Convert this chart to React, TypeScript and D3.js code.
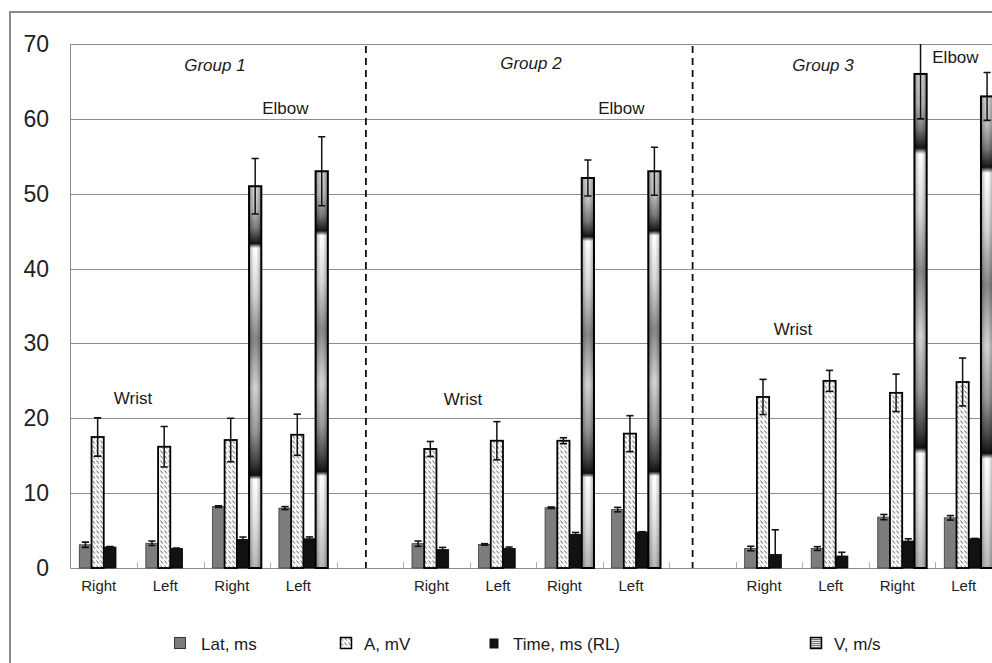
import { useRef, useEffect } from "react";
import * as d3 from "d3";

// 14 category slots: 4 per group plus an empty slot between groups
const categories = [
  "g1-wrist-r", "g1-wrist-l", "g1-elbow-r", "g1-elbow-l", "gap-1",
  "g2-wrist-r", "g2-wrist-l", "g2-elbow-r", "g2-elbow-l", "gap-2",
  "g3-wrist-r", "g3-wrist-l", "g3-elbow-r", "g3-elbow-l",
];
const sideLabels = [
  "Right", "Left", "Right", "Left", "",
  "Right", "Left", "Right", "Left", "",
  "Right", "Left", "Right", "Left",
];

const seriesKeys = ["lat", "amp", "time", "vel"];
const seriesNames = ["Lat, ms", "A, mV", "Time, ms (RL)", "V, m/s"];

const latValues = [3.1, 3.3, 8.2, 8.0, null, 3.25, 3.15, 8.05, 7.8, null, 2.6, 2.6, 6.8, 6.7];
const latErrors = [0.35, 0.3, 0.1, 0.2, null, 0.35, 0.1, 0.1, 0.3, null, 0.3, 0.25, 0.35, 0.3];
const ampValues = [17.5, 16.2, 17.1, 17.8, null, 15.9, 17.0, 17.0, 17.95, null, 22.85, 25.0, 23.4, 24.85];
const ampErrors = [2.55, 2.7, 2.9, 2.75, null, 1.0, 2.55, 0.4, 2.4, null, 2.35, 1.4, 2.5, 3.2];
const timeValues = [2.8, 2.6, 3.8, 3.9, null, 2.45, 2.6, 4.5, 4.8, null, 1.8, 1.6, 3.6, 3.9];
const timeErrors = [0.05, 0.05, 0.35, 0.25, null, 0.3, 0.2, 0.25, 0.05, null, 3.3, 0.5, 0.3, 0.05];
const velValues = [null, null, 51.0, 53.0, null, null, null, 52.1, 53.0, null, null, null, 66.0, 63.0];
const velErrors = [null, null, 3.7, 4.6, null, null, null, 2.4, 3.2, null, null, null, 6.0, 3.2];

const yTicks = [0, 10, 20, 30, 40, 50, 60, 70];

// annotations: text, position in category units, y value of the baseline
const groupLabels = ["Group 1", "Group 2", "Group 3"];
const groupLabelPos = [2.17, 6.92, 11.31];
const groupLabelY = [66.4, 66.7, 66.4];
const elbowPos = [3.23, 8.28, 13.3];
const elbowY = [60.6, 60.6, 67.5];
const wristPos = [0.94, 5.9, 10.86];
const wristY = [21.9, 21.75, 31.1];
const dividerPos = [4.44, 9.35];

const FONT = "'Liberation Sans', Arial, sans-serif";

function GroupedBarChart() {
  const svgRef = useRef<SVGSVGElement>(null);

  useEffect(() => {
    drawChart();
  }, []);

  function drawChart() {
    if (!svgRef.current) return;
    const svg = d3.select(svgRef.current);
    svg.selectAll("*").remove();

    const left = 70.5;
    const top = 44;
    const bottom = 568;
    const right = 992;

    const x0 = d3.scaleBand<string>().domain(categories).range([left, 1002]).padding(0);
    const x1 = d3
      .scaleBand<string>()
      .domain(seriesKeys)
      .range([0, x0.bandwidth()])
      .paddingInner(0)
      .paddingOuter(0.72);
    const y = d3.scaleLinear().domain([0, 70]).range([bottom, top]);
    const xPos = d3.scaleLinear().domain([0, categories.length]).range([left, 1002]);

    const defs = svg.append("defs");
    defs
      .append("clipPath")
      .attr("id", "plot-clip")
      .append("rect")
      .attr("x", left)
      .attr("y", top)
      .attr("width", right - left)
      .attr("height", bottom - top);

    const hatch = defs
      .append("pattern")
      .attr("id", "hatch")
      .attr("patternUnits", "userSpaceOnUse")
      .attr("width", 4)
      .attr("height", 5);
    hatch.append("rect").attr("width", 4).attr("height", 5).attr("fill", "#f7f7f7");
    hatch
      .append("path")
      .attr("d", "M0.6,0.6 L2.8,3.6")
      .attr("stroke", "#555")
      .attr("stroke-width", 0.9);

    // banded metallic fill of the V bars
    const vStops: [number, string][] = [
      [0, "#d4d4d4"], [0.06, "#bcbcbc"], [0.11, "#7a7a7a"], [0.15, "#151515"],
      [0.162, "#ffffff"], [0.28, "#d6d6d6"], [0.4, "#858585"], [0.53, "#d2d2d2"],
      [0.64, "#9a9a9a"], [0.72, "#454545"], [0.757, "#111111"], [0.768, "#ffffff"],
      [0.88, "#e2e2e2"], [1, "#b4b4b4"],
    ];
    const vGrad = defs
      .append("linearGradient")
      .attr("id", "vgrad")
      .attr("x1", 0).attr("y1", 0).attr("x2", 0).attr("y2", 1);
    vStops.forEach(([o, c]) => vGrad.append("stop").attr("offset", o).attr("stop-color", c));

    const vShade = defs
      .append("linearGradient")
      .attr("id", "vshade")
      .attr("x1", 0).attr("y1", 0).attr("x2", 1).attr("y2", 0);
    [[0, 0.3], [0.4, 0], [0.6, 0], [1, 0.3]].forEach(([o, a]) =>
      vShade.append("stop").attr("offset", o).attr("stop-color", "#000").attr("stop-opacity", a)
    );

    const legStripe = defs
      .append("pattern")
      .attr("id", "leg-stripe")
      .attr("patternUnits", "userSpaceOnUse")
      .attr("width", 4)
      .attr("height", 2);
    legStripe.append("rect").attr("width", 4).attr("height", 2).attr("fill", "#e0e0e0");
    legStripe.append("rect").attr("width", 4).attr("height", 1).attr("fill", "#777");

    // outer frame
    svg.append("line").attr("x1", 10).attr("x2", 10).attr("y1", 11).attr("y2", 663)
      .attr("stroke", "#8a8a8a").attr("stroke-width", 2);
    svg.append("line").attr("x1", 9).attr("x2", 992).attr("y1", 12).attr("y2", 12)
      .attr("stroke", "#8a8a8a").attr("stroke-width", 2);

    // gridlines
    svg
      .append("g")
      .selectAll("line")
      .data(yTicks)
      .join("line")
      .attr("x1", left)
      .attr("x2", right)
      .attr("y1", (d) => Math.round(y(d)) + 0.5)
      .attr("y2", (d) => Math.round(y(d)) + 0.5)
      .attr("stroke", "#8c8c8c")
      .attr("stroke-width", 1);

    svg.append("line").attr("x1", left).attr("x2", left).attr("y1", top).attr("y2", bottom + 0.5)
      .attr("stroke", "#8c8c8c");

    // category tick marks (inside)
    svg
      .append("g")
      .selectAll("line")
      .data(categories.slice(1))
      .join("line")
      .attr("x1", (d) => Math.round(x0(d)!) + 0.5)
      .attr("x2", (d) => Math.round(x0(d)!) + 0.5)
      .attr("y1", bottom)
      .attr("y2", bottom - 6)
      .attr("stroke", "#b0b0b0");

    // y tick labels
    svg
      .append("g")
      .selectAll("text")
      .data(yTicks)
      .join("text")
      .attr("x", 49)
      .attr("y", (d) => y(d))
      .attr("dy", "0.35em")
      .attr("text-anchor", "end")
      .attr("font-family", FONT)
      .attr("font-size", 23)
      .attr("fill", "#222")
      .text((d) => d);

    const series = [
      { key: "lat", values: latValues, errors: latErrors },
      { key: "amp", values: ampValues, errors: ampErrors },
      { key: "time", values: timeValues, errors: timeErrors },
      { key: "vel", values: velValues, errors: velErrors },
    ];

    const bars = svg.append("g");
    series.forEach((s) => {
      const rows = categories
        .map((c, i) => ({ cat: c, v: s.values[i], e: s.errors[i] }))
        .filter((r) => r.v != null);
      const bx = (r: any) => x0(r.cat)! + x1(s.key)!;
      const g = bars.append("g");
      const rects = g
        .selectAll("rect.bar")
        .data(rows)
        .join("rect")
        .attr("class", "bar")
        .attr("x", bx)
        .attr("y", (r: any) => y(r.v))
        .attr("width", x1.bandwidth())
        .attr("height", (r: any) => y(0) - y(r.v));
      if (s.key === "lat") {
        rects.attr("fill", "#7d7d7d").attr("stroke", "#3a3a3a").attr("stroke-width", 0.8);
      } else if (s.key === "amp") {
        rects.attr("fill", "url(#hatch)").attr("stroke", "#000").attr("stroke-width", 1.8);
      } else if (s.key === "time") {
        rects.attr("fill", "#121212").attr("stroke", "#000").attr("stroke-width", 0.8);
      } else {
        rects.attr("fill", "url(#vgrad)");
        g.selectAll("rect.shade")
          .data(rows)
          .join("rect")
          .attr("class", "shade")
          .attr("x", bx)
          .attr("y", (r: any) => y(r.v))
          .attr("width", x1.bandwidth())
          .attr("height", (r: any) => y(0) - y(r.v))
          .attr("fill", "url(#vshade)")
          .attr("stroke", "#000")
          .attr("stroke-width", 2);
      }
    });

    // error bars
    const err = svg.append("g").attr("clip-path", "url(#plot-clip)");
    series.forEach((s) => {
      const rows = categories
        .map((c, i) => ({ cat: c, v: s.values[i], e: s.errors[i] }))
        .filter((r) => r.v != null && r.e != null);
      const cx = (r: any) => x0(r.cat)! + x1(s.key)! + x1.bandwidth() / 2;
      const cap = 3.6;
      rows.forEach((r: any) => {
        const xc = cx(r);
        const yHi = y(r.v + r.e);
        const yLo = y(r.v - r.e);
        err.append("line").attr("x1", xc).attr("x2", xc).attr("y1", yHi).attr("y2", yLo)
          .attr("stroke", "#111").attr("stroke-width", 1.5);
        [yHi, yLo].forEach((yy) =>
          err.append("line").attr("x1", xc - cap).attr("x2", xc + cap).attr("y1", yy).attr("y2", yy)
            .attr("stroke", "#111").attr("stroke-width", 1.6)
        );
      });
    });

    // group dividers
    svg
      .append("g")
      .selectAll("line")
      .data(dividerPos)
      .join("line")
      .attr("x1", (d) => xPos(d))
      .attr("x2", (d) => xPos(d))
      .attr("y1", top + 2)
      .attr("y2", bottom)
      .attr("stroke", "#111")
      .attr("stroke-width", 1.8)
      .attr("stroke-dasharray", "7,5");

    const annotate = (labels: string[], pos: number[], ys: number[], italic: boolean) => {
      svg
        .append("g")
        .selectAll("text")
        .data(labels)
        .join("text")
        .attr("x", (_, i) => xPos(pos[i]))
        .attr("y", (_, i) => y(ys[i]))
        .attr("text-anchor", "middle")
        .attr("font-family", FONT)
        .attr("font-size", 17)
        .attr("font-style", italic ? "italic" : "normal")
        .attr("fill", "#1a1a1a")
        .text((d) => d);
    };
    annotate(groupLabels, groupLabelPos, groupLabelY, true);
    annotate(["Elbow", "Elbow", "Elbow"], elbowPos, elbowY, false);
    annotate(["Wrist", "Wrist", "Wrist"], wristPos, wristY, false);

    // side labels under categories
    svg
      .append("g")
      .selectAll("text")
      .data(categories.map((c, i) => ({ c, label: sideLabels[i] })).filter((d) => d.label))
      .join("text")
      .attr("x", (d) => x0(d.c)! + x0.bandwidth() / 2 - 5)
      .attr("y", 591)
      .attr("text-anchor", "middle")
      .attr("font-family", FONT)
      .attr("font-size", 15)
      .attr("fill", "#222")
      .text((d) => d.label);

    // legend
    const legendX = [174, 340, 489, 810];
    const legend = svg.append("g");
    seriesNames.forEach((name, i) => {
      const g = legend.append("g").attr("transform", `translate(${legendX[i]},637)`);
      const key = seriesKeys[i];
      if (key === "lat") {
        g.append("rect").attr("x", 0.5).attr("y", 0.5).attr("width", 11).attr("height", 11)
          .attr("fill", "#7d7d7d").attr("stroke", "#333");
      } else if (key === "amp") {
        g.append("rect").attr("x", 0.5).attr("y", 0.5).attr("width", 11).attr("height", 11)
          .attr("fill", "url(#hatch)").attr("stroke", "#000").attr("stroke-width", 1.5);
      } else if (key === "time") {
        g.append("rect").attr("x", 0.5).attr("y", 1.5).attr("width", 9).attr("height", 10)
          .attr("fill", "#111");
      } else {
        g.append("rect").attr("x", 0.5).attr("y", 0.5).attr("width", 11).attr("height", 11)
          .attr("fill", "url(#leg-stripe)").attr("stroke", "#000").attr("stroke-width", 1.5);
      }
      g.append("text")
        .attr("x", key === "lat" ? 27 : 24)
        .attr("y", 13)
        .attr("font-family", FONT)
        .attr("font-size", 17)
        .attr("fill", "#1a1a1a")
        .text(name);
    });
  }

  return (
    <svg
      ref={svgRef}
      width={992}
      height={663}
      style={{ position: "absolute", left: 0, top: 0, background: "#fff" }}
    />
  );
}

export default function App() {
  return <GroupedBarChart />;
}
